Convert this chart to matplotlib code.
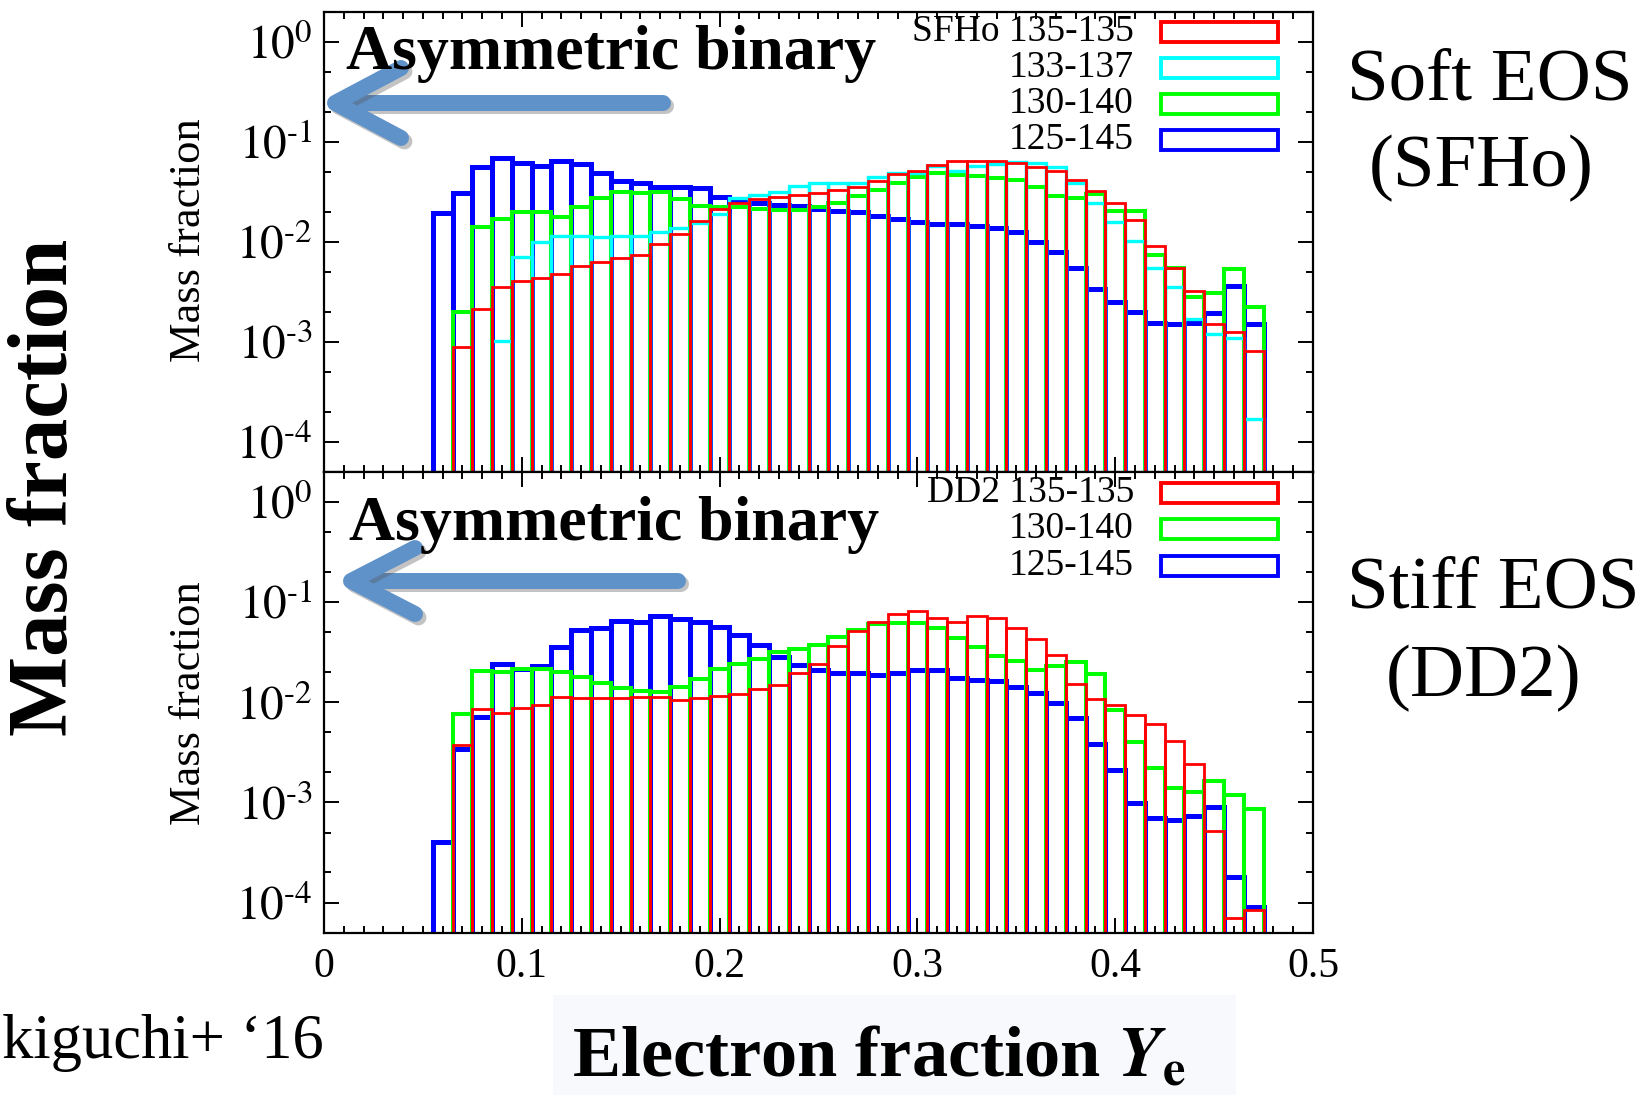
import numpy as np
import matplotlib
matplotlib.use("Agg")
import matplotlib.pyplot as plt
from matplotlib.patches import Rectangle
from matplotlib.lines import Line2D
import matplotlib.patheffects as pe
from matplotlib.ticker import FixedLocator, MultipleLocator, FuncFormatter, NullFormatter

plt.rcParams['font.family'] = ['Liberation Serif', 'DejaVu Serif']
plt.rcParams['mathtext.fontset'] = 'stix'

# ---------------- data ----------------
ye_centers = [round(0.06 + 0.01 * i, 2) for i in range(42)]
bin_width = 0.01

sfho_135_135 = [0, 0.00088, 0.0021, 0.0035, 0.0040, 0.0043, 0.0048, 0.0057, 0.0062, 0.0068,
                0.0073, 0.0095, 0.0119, 0.0162, 0.0211, 0.0245, 0.0265, 0.0281, 0.0292, 0.0308,
                0.0328, 0.0354, 0.0407, 0.0471, 0.0512, 0.0588, 0.0640, 0.0640, 0.0640, 0.0607,
                0.0561, 0.0508, 0.0413, 0.0321, 0.0242, 0.0164, 0.0090, 0.0055, 0.0032, 0.0015,
                0.00124, 0.00081]
sfho_133_137 = [0, 0, 0, 0.00101, 0.0071, 0.0100, 0.0114, 0.0113, 0.0112, 0.0114,
                0.0113, 0.0126, 0.0136, 0.0155, 0.0189, 0.0271, 0.0292, 0.0316, 0.0360, 0.0388,
                0.0388, 0.0388, 0.0446, 0.0482, 0.0489, 0.0570, 0.0512, 0.0570, 0.0595, 0.0630,
                0.0607, 0.0561, 0.0388, 0.0242, 0.0158, 0.0102, 0.0055, 0.0035, 0.0017, 0.0012,
                0.00108, 0.000167]
sfho_130_140 = [0, 0.0020, 0.0141, 0.0167, 0.0198, 0.0199, 0.0178, 0.0224, 0.0271, 0.0313,
                0.0304, 0.0316, 0.0265, 0.0227, 0.0220, 0.0224, 0.0212, 0.0207, 0.0207, 0.0220,
                0.0245, 0.0288, 0.0328, 0.0388, 0.0446, 0.0489, 0.0463, 0.0453, 0.0436, 0.0413,
                0.0349, 0.0288, 0.0271, 0.0297, 0.0202, 0.0203, 0.0073, 0.0054, 0.0028, 0.0031,
                0.0053, 0.0022]
sfho_125_145 = [0.0195, 0.0304, 0.0561, 0.0680, 0.0607, 0.0570, 0.0645, 0.0597, 0.0482, 0.0407,
                0.0383, 0.0354, 0.0349, 0.0341, 0.0281, 0.0261, 0.0242, 0.0232, 0.0227, 0.0210,
                0.0202, 0.0199, 0.0182, 0.0167, 0.0158, 0.0152, 0.0152, 0.0144, 0.0138, 0.0126,
                0.0100, 0.0078, 0.0055, 0.0034, 0.0025, 0.0020, 0.00155, 0.0015, 0.00155, 0.00195,
                0.0036, 0.00152]

dd2_135_135 = [0, 0.0037, 0.0086, 0.0078, 0.0087, 0.0093, 0.0112, 0.0111, 0.0111, 0.0111,
               0.0112, 0.0112, 0.0106, 0.0111, 0.0114, 0.0121, 0.0134, 0.0150, 0.0195, 0.0238,
               0.0360, 0.0513, 0.0631, 0.0765, 0.0807, 0.0698, 0.0631, 0.0725, 0.0692, 0.0554,
               0.0424, 0.0293, 0.0153, 0.0108, 0.0093, 0.0075, 0.0060, 0.0041, 0.0024, 0.00052,
               0.000070, 0.000084]
dd2_130_140 = [0, 0.0077, 0.0204, 0.0200, 0.0216, 0.0216, 0.0200, 0.0178, 0.0155, 0.0139,
               0.0129, 0.0126, 0.0141, 0.0171, 0.0213, 0.0242, 0.0267, 0.0314, 0.0342, 0.0369,
               0.0447, 0.0521, 0.0598, 0.0617, 0.0617, 0.0554, 0.0440, 0.0355, 0.0286, 0.0255,
               0.0211, 0.0228, 0.0251, 0.0192, 0.0084, 0.0040, 0.0022, 0.0014, 0.00126, 0.00162,
               0.00119, 0.00086]
dd2_125_145 = [0.00040, 0.0034, 0.0071, 0.0238, 0.0216, 0.0228, 0.0355, 0.0521, 0.0554, 0.0646,
               0.0631, 0.0719, 0.0682, 0.0631, 0.0562, 0.0464, 0.0369, 0.0282, 0.0237, 0.0211,
               0.0195, 0.0195, 0.0185, 0.0195, 0.0211, 0.0209, 0.0174, 0.0165, 0.0163, 0.0141,
               0.0123, 0.0099, 0.0069, 0.0038, 0.0021, 0.00098, 0.00070, 0.00067, 0.00074, 0.00091,
               0.00018, 0.000091]

sfho_labels = ["SFHo 135-135", "133-137", "130-140", "125-145"]
dd2_labels = ["DD2 135-135", "130-140", "125-145"]
x_ticks = [0, 0.1, 0.2, 0.3, 0.4, 0.5]
x_ticklabels = ["0", "0.1", "0.2", "0.3", "0.4", "0.5"]
y_ticks = [1e-4, 1e-3, 1e-2, 1e-1, 1e0]

RED, CYAN, GREEN, BLUE = '#ff0000', '#00ffff', '#00ff00', '#0000ff'
ARROW = '#5f92c9'

# ---------------- figure ----------------
W, H = 1643, 1095
fig = plt.figure(figsize=(W / 100, H / 100), dpi=100)


def fx(px):
    return px / W


def fy(py):
    return 1 - py / H


left, right = 324, 1313
top1, mid, bot = 11.7, 471.7, 932.7
ax1 = fig.add_axes([fx(left), fy(mid), (right - left) / W, (mid - top1) / H])
ax2 = fig.add_axes([fx(left), fy(bot), (right - left) / W, (bot - mid) / H])

centers = np.array(ye_centers)
FLOOR = 1e-6


def draw_series(ax, vals, color, lw, z):
    v = np.asarray(vals, float)
    m = v > 0
    bars = ax.bar(centers[m], v[m] - FLOOR, bottom=FLOOR, width=bin_width, fill=False,
                  edgecolor=color, linewidth=lw, zorder=z, align='center')
    for b in bars:
        b.set_joinstyle('miter')


draw_series(ax1, sfho_125_145, BLUE, 3.6, 2)
draw_series(ax1, sfho_130_140, GREEN, 2.9, 3)
draw_series(ax1, sfho_133_137, CYAN, 2.4, 4)
draw_series(ax1, sfho_135_135, RED, 2.0, 5)

draw_series(ax2, dd2_125_145, BLUE, 3.6, 2)
draw_series(ax2, dd2_130_140, GREEN, 2.9, 3)
draw_series(ax2, dd2_135_135, RED, 2.0, 5)


def ylog_fmt(v, _):
    e = int(round(np.log10(v)))
    if e < 0:
        return r'$10^{\text{-}%d}$' % (-e)
    return r'$10^{%d}$' % e


for ax in (ax1, ax2):
    ax.set_yscale('log')
    ax.set_ylim(10 ** -4.3, 10 ** 0.3)
    ax.set_xlim(0, 0.5)
    ax.yaxis.set_major_locator(FixedLocator(y_ticks))
    minors = [m * 10.0 ** e for e in range(-5, 1) for m in (2, 5)]
    ax.yaxis.set_minor_locator(FixedLocator(minors))
    ax.yaxis.set_major_formatter(FuncFormatter(ylog_fmt))
    ax.yaxis.set_minor_formatter(NullFormatter())
    ax.xaxis.set_major_locator(FixedLocator(x_ticks))
    ax.xaxis.set_minor_locator(MultipleLocator(0.01))
    ax.tick_params(which='both', direction='in', top=True, right=True, width=1.4)
    ax.tick_params(which='major', length=11, pad=8)
    ax.tick_params(axis='y', which='major', labelsize=34)
    ax.tick_params(which='minor', length=5)
    for s in ax.spines.values():
        s.set_linewidth(1.6)
        s.set_zorder(10)

ax1.tick_params(axis='x', labelbottom=False)
ax2.set_xticklabels(x_ticklabels)
ax2.tick_params(axis='x', labelsize=30, pad=11)

# ---------------- legends ----------------
def legend(labels, colors, rows):
    for lab, c, ry in zip(labels, colors, rows):
        fig.text(fx(1134), fy(ry), lab, fontsize=27, ha='right', va='center')
        fig.patches.append(Rectangle((fx(1161), fy(ry + 10)), (1278 - 1161) / W, 20 / H,
                                     transform=fig.transFigure, fill=False, edgecolor=c,
                                     linewidth=2.8, joinstyle='miter'))


legend(sfho_labels, [RED, CYAN, GREEN, BLUE], [32, 68, 104, 140])
legend(dd2_labels, [RED, GREEN, BLUE], [493, 529, 566])

# ---------------- annotations ----------------
fig.text(fx(346), fy(69), 'Asymmetric binary', fontsize=46, weight='bold', ha='left', va='baseline')
fig.text(fx(349), fy(540), 'Asymmetric binary', fontsize=46, weight='bold', ha='left', va='baseline')

shadow = [pe.SimpleLineShadow(offset=(2.5, -2.5), shadow_color='#555555', alpha=0.35), pe.Normal()]


def arrow(tip, tail, wing_dx, wing_dy):
    kw = dict(color=ARROW, linewidth=11.5, solid_capstyle='round', solid_joinstyle='round',
              transform=fig.transFigure, path_effects=shadow)
    fig.lines.append(Line2D([fx(tail[0]), fx(tip[0] + 6)], [fy(tail[1]), fy(tip[1])], **kw))
    fig.lines.append(Line2D([fx(tip[0] + wing_dx), fx(tip[0]), fx(tip[0] + wing_dx)],
                            [fy(tip[1] - wing_dy), fy(tip[1]), fy(tip[1] + wing_dy)], **kw))


arrow((335, 103), (663, 103), 66, 35)
arrow((351, 581), (678, 581), 64, 33)

fig.text(fx(1490), fy(99), 'Soft EOS', fontsize=54, ha='center', va='baseline')
fig.text(fx(1481), fy(186), '(SFHo)', fontsize=54, ha='center', va='baseline')
fig.text(fx(1493), fy(608), 'Stiff EOS', fontsize=54, ha='center', va='baseline')
fig.text(fx(1484), fy(696), '(DD2)', fontsize=54, ha='center', va='baseline')

fig.text(fx(189), fy(240), 'Mass fraction', fontsize=32, rotation=90, ha='center', va='center')
fig.text(fx(189), fy(703), 'Mass fraction', fontsize=32, rotation=90, ha='center', va='center')
fig.text(fx(47), fy(487), 'Mass fraction', fontsize=61, weight='bold', rotation=90,
         ha='center', va='center')

fig.patches.append(Rectangle((fx(553), fy(1095)), (1236 - 553) / W, 100 / H,
                             transform=fig.transFigure, facecolor='#f7f9fc', edgecolor='none',
                             zorder=0))
fig.text(fx(572), fy(1076), r'Electron fraction $\mathbfit{Y}_{\mathbf{e}}$', fontsize=52,
         weight='bold', ha='left', va='baseline')
fig.text(fx(2), fy(1058), 'kiguchi+ \u201816', fontsize=45, ha='left', va='baseline')

fig.savefig('out.png', dpi=100)
